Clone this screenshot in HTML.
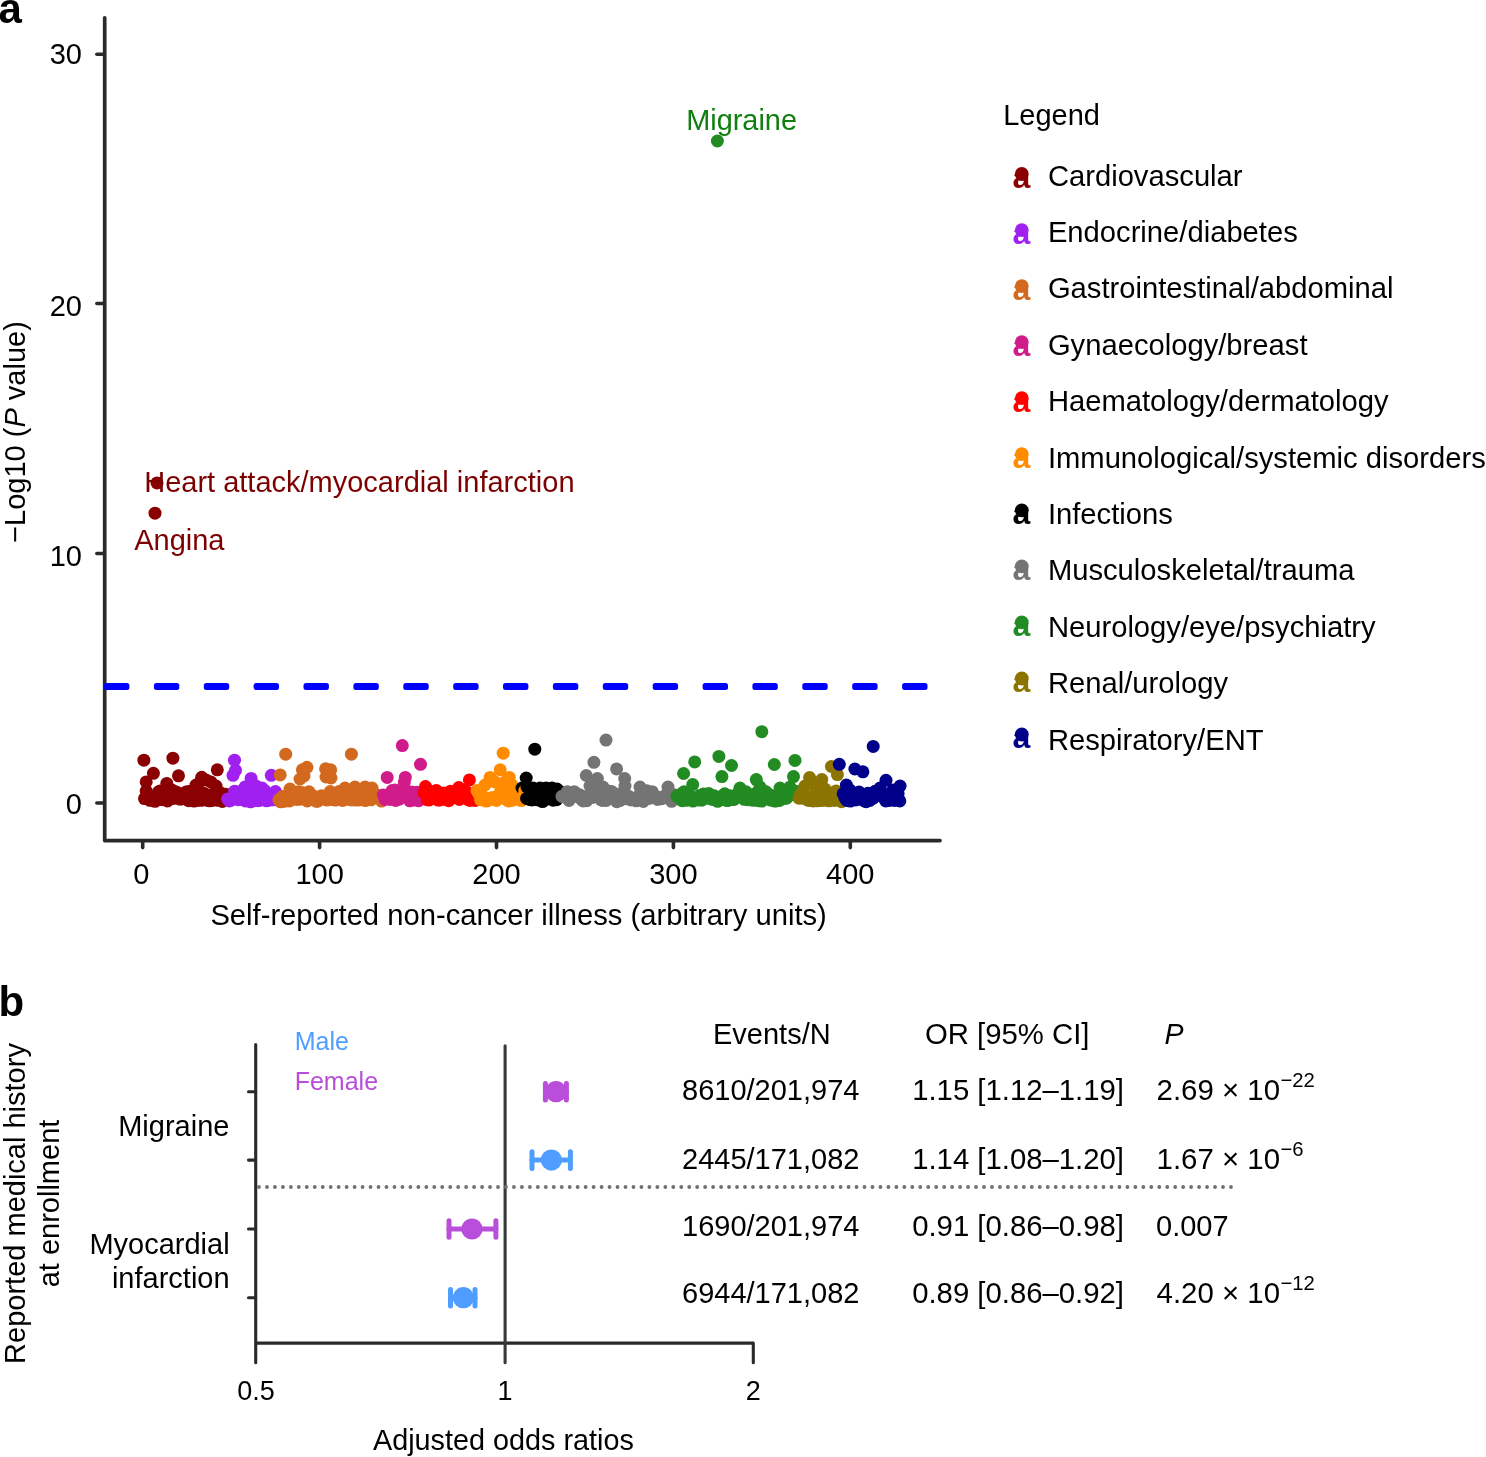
<!DOCTYPE html>
<html><head><meta charset="utf-8"><title>Figure</title>
<style>
html,body{margin:0;padding:0;background:#fff;}
body{width:1486px;height:1457px;overflow:hidden;}
svg{will-change:transform;display:block;font-family:"Liberation Sans", sans-serif;}
</style></head>
<body>
<svg width="1486" height="1457" viewBox="0 0 1486 1457">
<rect width="1486" height="1457" fill="#fff"/>
<text x="-1.5" y="22.7" font-size="42" text-anchor="start" fill="#000" font-weight="bold" font-style="normal" >a</text>
<path d="M104.7,17.8 L104.7,840.6 L940,840.6" fill="none" stroke="#2a2a2a" stroke-width="3.7" stroke-linecap="round" stroke-linejoin="round"/>
<line x1="96.8" y1="54.3" x2="104" y2="54.3" stroke="#2a2a2a" stroke-width="3.5" stroke-linecap="round"/>
<text x="81.9" y="63.6" font-size="29" text-anchor="end" fill="#000" font-weight="normal" font-style="normal" >30</text>
<line x1="96.8" y1="303.6" x2="104" y2="303.6" stroke="#2a2a2a" stroke-width="3.5" stroke-linecap="round"/>
<text x="81.9" y="316.3" font-size="29" text-anchor="end" fill="#000" font-weight="normal" font-style="normal" >20</text>
<line x1="96.8" y1="553.6" x2="104" y2="553.6" stroke="#2a2a2a" stroke-width="3.5" stroke-linecap="round"/>
<text x="81.9" y="566.3" font-size="29" text-anchor="end" fill="#000" font-weight="normal" font-style="normal" >10</text>
<line x1="96.8" y1="803.1" x2="104" y2="803.1" stroke="#2a2a2a" stroke-width="3.5" stroke-linecap="round"/>
<text x="81.9" y="813.5" font-size="29" text-anchor="end" fill="#000" font-weight="normal" font-style="normal" >0</text>
<line x1="142.7" y1="841" x2="142.7" y2="847.6" stroke="#2a2a2a" stroke-width="3.6" stroke-linecap="round"/>
<text x="141.4" y="883.7" font-size="29" text-anchor="middle" fill="#000" font-weight="normal" font-style="normal" >0</text>
<line x1="319.6" y1="841" x2="319.6" y2="847.6" stroke="#2a2a2a" stroke-width="3.6" stroke-linecap="round"/>
<text x="319.6" y="883.7" font-size="29" text-anchor="middle" fill="#000" font-weight="normal" font-style="normal" >100</text>
<line x1="496.5" y1="841" x2="496.5" y2="847.6" stroke="#2a2a2a" stroke-width="3.6" stroke-linecap="round"/>
<text x="496.5" y="883.7" font-size="29" text-anchor="middle" fill="#000" font-weight="normal" font-style="normal" >200</text>
<line x1="673.4" y1="841" x2="673.4" y2="847.6" stroke="#2a2a2a" stroke-width="3.6" stroke-linecap="round"/>
<text x="673.4" y="883.7" font-size="29" text-anchor="middle" fill="#000" font-weight="normal" font-style="normal" >300</text>
<line x1="850.3" y1="841" x2="850.3" y2="847.6" stroke="#2a2a2a" stroke-width="3.6" stroke-linecap="round"/>
<text x="850.3" y="883.7" font-size="29" text-anchor="middle" fill="#000" font-weight="normal" font-style="normal" >400</text>
<text x="518.6" y="925" font-size="29.2" text-anchor="middle" fill="#000" font-weight="normal" font-style="normal" >Self-reported non-cancer illness (arbitrary units)</text>
<text transform="translate(24.7,432) rotate(-90)" x="0" y="0" font-size="29" text-anchor="middle" fill="#000">−Log10 (<tspan font-style="italic">P</tspan> value)</text>
<rect x="104.0" y="683.1" width="25.4" height="7" rx="2.5" fill="#0000ff"/>
<rect x="153.9" y="683.1" width="25.4" height="7" rx="2.5" fill="#0000ff"/>
<rect x="203.8" y="683.1" width="25.4" height="7" rx="2.5" fill="#0000ff"/>
<rect x="253.6" y="683.1" width="25.4" height="7" rx="2.5" fill="#0000ff"/>
<rect x="303.5" y="683.1" width="25.4" height="7" rx="2.5" fill="#0000ff"/>
<rect x="353.4" y="683.1" width="25.4" height="7" rx="2.5" fill="#0000ff"/>
<rect x="403.3" y="683.1" width="25.4" height="7" rx="2.5" fill="#0000ff"/>
<rect x="453.2" y="683.1" width="25.4" height="7" rx="2.5" fill="#0000ff"/>
<rect x="503.0" y="683.1" width="25.4" height="7" rx="2.5" fill="#0000ff"/>
<rect x="552.9" y="683.1" width="25.4" height="7" rx="2.5" fill="#0000ff"/>
<rect x="602.8" y="683.1" width="25.4" height="7" rx="2.5" fill="#0000ff"/>
<rect x="652.7" y="683.1" width="25.4" height="7" rx="2.5" fill="#0000ff"/>
<rect x="702.6" y="683.1" width="25.4" height="7" rx="2.5" fill="#0000ff"/>
<rect x="752.4" y="683.1" width="25.4" height="7" rx="2.5" fill="#0000ff"/>
<rect x="802.3" y="683.1" width="25.4" height="7" rx="2.5" fill="#0000ff"/>
<rect x="852.2" y="683.1" width="25.4" height="7" rx="2.5" fill="#0000ff"/>
<rect x="902.1" y="683.1" width="25.4" height="7" rx="2.5" fill="#0000ff"/>
<circle cx="143.9" cy="760.2" r="6.5" fill="#8b0000"/>
<circle cx="144.5" cy="798.6" r="6.5" fill="#8b0000"/>
<circle cx="146.2" cy="781.9" r="6.5" fill="#8b0000"/>
<circle cx="146.2" cy="791.1" r="6.5" fill="#8b0000"/>
<circle cx="148.0" cy="798.1" r="6.5" fill="#8b0000"/>
<circle cx="149.8" cy="800.3" r="6.5" fill="#8b0000"/>
<circle cx="151.5" cy="797.2" r="6.5" fill="#8b0000"/>
<circle cx="153.3" cy="800.4" r="6.5" fill="#8b0000"/>
<circle cx="153.4" cy="773.3" r="6.5" fill="#8b0000"/>
<circle cx="155.1" cy="801.3" r="6.5" fill="#8b0000"/>
<circle cx="156.9" cy="795.1" r="6.5" fill="#8b0000"/>
<circle cx="158.6" cy="791.9" r="6.5" fill="#8b0000"/>
<circle cx="160.0" cy="791.0" r="6.5" fill="#8b0000"/>
<circle cx="160.4" cy="796.6" r="6.5" fill="#8b0000"/>
<circle cx="162.2" cy="799.7" r="6.5" fill="#8b0000"/>
<circle cx="163.9" cy="797.1" r="6.5" fill="#8b0000"/>
<circle cx="165.7" cy="799.8" r="6.5" fill="#8b0000"/>
<circle cx="166.8" cy="783.4" r="6.5" fill="#8b0000"/>
<circle cx="167.5" cy="801.0" r="6.5" fill="#8b0000"/>
<circle cx="169.2" cy="799.1" r="6.5" fill="#8b0000"/>
<circle cx="171.0" cy="798.1" r="6.5" fill="#8b0000"/>
<circle cx="172.0" cy="790.0" r="6.5" fill="#8b0000"/>
<circle cx="172.8" cy="798.3" r="6.5" fill="#8b0000"/>
<circle cx="172.9" cy="758.2" r="6.5" fill="#8b0000"/>
<circle cx="174.5" cy="798.1" r="6.5" fill="#8b0000"/>
<circle cx="176.3" cy="792.0" r="6.5" fill="#8b0000"/>
<circle cx="178.1" cy="793.3" r="6.5" fill="#8b0000"/>
<circle cx="178.5" cy="775.8" r="6.5" fill="#8b0000"/>
<circle cx="179.8" cy="799.1" r="6.5" fill="#8b0000"/>
<circle cx="181.6" cy="799.0" r="6.5" fill="#8b0000"/>
<circle cx="183.4" cy="794.5" r="6.5" fill="#8b0000"/>
<circle cx="185.2" cy="792.6" r="6.5" fill="#8b0000"/>
<circle cx="186.9" cy="791.8" r="6.5" fill="#8b0000"/>
<circle cx="188.7" cy="800.7" r="6.5" fill="#8b0000"/>
<circle cx="190.5" cy="791.2" r="6.5" fill="#8b0000"/>
<circle cx="192.2" cy="791.0" r="6.5" fill="#8b0000"/>
<circle cx="194.0" cy="801.1" r="6.5" fill="#8b0000"/>
<circle cx="195.8" cy="794.0" r="6.5" fill="#8b0000"/>
<circle cx="196.0" cy="785.0" r="6.5" fill="#8b0000"/>
<circle cx="197.5" cy="800.5" r="6.5" fill="#8b0000"/>
<circle cx="199.3" cy="791.6" r="6.5" fill="#8b0000"/>
<circle cx="201.0" cy="781.0" r="6.5" fill="#8b0000"/>
<circle cx="201.1" cy="800.2" r="6.5" fill="#8b0000"/>
<circle cx="201.7" cy="777.3" r="6.5" fill="#8b0000"/>
<circle cx="202.8" cy="800.0" r="6.5" fill="#8b0000"/>
<circle cx="204.6" cy="793.5" r="6.5" fill="#8b0000"/>
<circle cx="206.0" cy="780.0" r="6.5" fill="#8b0000"/>
<circle cx="206.4" cy="797.4" r="6.5" fill="#8b0000"/>
<circle cx="208.2" cy="800.6" r="6.5" fill="#8b0000"/>
<circle cx="209.9" cy="800.8" r="6.5" fill="#8b0000"/>
<circle cx="211.0" cy="782.0" r="6.5" fill="#8b0000"/>
<circle cx="211.7" cy="800.5" r="6.5" fill="#8b0000"/>
<circle cx="213.5" cy="799.8" r="6.5" fill="#8b0000"/>
<circle cx="215.2" cy="791.7" r="6.5" fill="#8b0000"/>
<circle cx="216.0" cy="786.0" r="6.5" fill="#8b0000"/>
<circle cx="217.0" cy="800.2" r="6.5" fill="#8b0000"/>
<circle cx="217.3" cy="769.8" r="6.5" fill="#8b0000"/>
<circle cx="218.8" cy="800.0" r="6.5" fill="#8b0000"/>
<circle cx="220.5" cy="792.8" r="6.5" fill="#8b0000"/>
<circle cx="222.3" cy="801.5" r="6.5" fill="#8b0000"/>
<circle cx="224.1" cy="799.7" r="6.5" fill="#8b0000"/>
<circle cx="225.8" cy="794.3" r="6.5" fill="#8b0000"/>
<circle cx="227.6" cy="798.9" r="6.5" fill="#a020f0"/>
<circle cx="229.4" cy="800.9" r="6.5" fill="#a020f0"/>
<circle cx="231.1" cy="800.1" r="6.5" fill="#a020f0"/>
<circle cx="232.9" cy="799.0" r="6.5" fill="#a020f0"/>
<circle cx="233.0" cy="775.3" r="6.5" fill="#a020f0"/>
<circle cx="234.5" cy="760.2" r="6.5" fill="#a020f0"/>
<circle cx="234.7" cy="791.2" r="6.5" fill="#a020f0"/>
<circle cx="235.5" cy="770.3" r="6.5" fill="#a020f0"/>
<circle cx="236.5" cy="797.9" r="6.5" fill="#a020f0"/>
<circle cx="238.2" cy="799.7" r="6.5" fill="#a020f0"/>
<circle cx="240.0" cy="791.7" r="6.5" fill="#a020f0"/>
<circle cx="241.8" cy="799.4" r="6.5" fill="#a020f0"/>
<circle cx="243.5" cy="795.9" r="6.5" fill="#a020f0"/>
<circle cx="245.0" cy="787.0" r="6.5" fill="#a020f0"/>
<circle cx="245.3" cy="800.9" r="6.5" fill="#a020f0"/>
<circle cx="247.1" cy="791.7" r="6.5" fill="#a020f0"/>
<circle cx="248.8" cy="798.1" r="6.5" fill="#a020f0"/>
<circle cx="250.6" cy="801.8" r="6.5" fill="#a020f0"/>
<circle cx="251.1" cy="778.4" r="6.5" fill="#a020f0"/>
<circle cx="252.4" cy="800.3" r="6.5" fill="#a020f0"/>
<circle cx="254.1" cy="800.4" r="6.5" fill="#a020f0"/>
<circle cx="255.9" cy="796.8" r="6.5" fill="#a020f0"/>
<circle cx="256.0" cy="786.0" r="6.5" fill="#a020f0"/>
<circle cx="257.7" cy="800.7" r="6.5" fill="#a020f0"/>
<circle cx="259.5" cy="800.4" r="6.5" fill="#a020f0"/>
<circle cx="261.2" cy="798.1" r="6.5" fill="#a020f0"/>
<circle cx="262.0" cy="788.0" r="6.5" fill="#a020f0"/>
<circle cx="263.0" cy="796.6" r="6.5" fill="#a020f0"/>
<circle cx="264.8" cy="790.7" r="6.5" fill="#a020f0"/>
<circle cx="266.5" cy="800.8" r="6.5" fill="#a020f0"/>
<circle cx="268.3" cy="797.8" r="6.5" fill="#a020f0"/>
<circle cx="270.1" cy="800.1" r="6.5" fill="#a020f0"/>
<circle cx="271.3" cy="775.3" r="6.5" fill="#a020f0"/>
<circle cx="271.8" cy="796.8" r="6.5" fill="#a020f0"/>
<circle cx="273.6" cy="799.8" r="6.5" fill="#a020f0"/>
<circle cx="275.4" cy="791.5" r="6.5" fill="#a020f0"/>
<circle cx="277.1" cy="796.0" r="6.5" fill="#a020f0"/>
<circle cx="278.9" cy="799.8" r="6.5" fill="#d2691e"/>
<circle cx="280.2" cy="774.9" r="6.5" fill="#d2691e"/>
<circle cx="280.7" cy="801.8" r="6.5" fill="#d2691e"/>
<circle cx="282.5" cy="796.5" r="6.5" fill="#d2691e"/>
<circle cx="284.2" cy="801.3" r="6.5" fill="#d2691e"/>
<circle cx="285.7" cy="754.2" r="6.5" fill="#d2691e"/>
<circle cx="286.0" cy="798.6" r="6.5" fill="#d2691e"/>
<circle cx="287.8" cy="800.3" r="6.5" fill="#d2691e"/>
<circle cx="289.5" cy="800.9" r="6.5" fill="#d2691e"/>
<circle cx="290.0" cy="789.0" r="6.5" fill="#d2691e"/>
<circle cx="291.3" cy="795.8" r="6.5" fill="#d2691e"/>
<circle cx="293.1" cy="795.5" r="6.5" fill="#d2691e"/>
<circle cx="294.8" cy="794.8" r="6.5" fill="#d2691e"/>
<circle cx="296.6" cy="799.5" r="6.5" fill="#d2691e"/>
<circle cx="298.4" cy="791.8" r="6.5" fill="#d2691e"/>
<circle cx="300.0" cy="779.0" r="6.5" fill="#d2691e"/>
<circle cx="300.1" cy="799.2" r="6.5" fill="#d2691e"/>
<circle cx="301.9" cy="792.4" r="6.5" fill="#d2691e"/>
<circle cx="302.4" cy="769.8" r="6.5" fill="#d2691e"/>
<circle cx="303.7" cy="796.6" r="6.5" fill="#d2691e"/>
<circle cx="304.0" cy="776.0" r="6.5" fill="#d2691e"/>
<circle cx="305.4" cy="797.4" r="6.5" fill="#d2691e"/>
<circle cx="306.9" cy="767.3" r="6.5" fill="#d2691e"/>
<circle cx="307.2" cy="801.0" r="6.5" fill="#d2691e"/>
<circle cx="309.0" cy="791.8" r="6.5" fill="#d2691e"/>
<circle cx="310.8" cy="795.2" r="6.5" fill="#d2691e"/>
<circle cx="312.5" cy="795.4" r="6.5" fill="#d2691e"/>
<circle cx="314.3" cy="799.1" r="6.5" fill="#d2691e"/>
<circle cx="316.1" cy="801.2" r="6.5" fill="#d2691e"/>
<circle cx="317.8" cy="801.2" r="6.5" fill="#d2691e"/>
<circle cx="319.6" cy="797.8" r="6.5" fill="#d2691e"/>
<circle cx="321.4" cy="795.8" r="6.5" fill="#d2691e"/>
<circle cx="323.1" cy="797.6" r="6.5" fill="#d2691e"/>
<circle cx="324.9" cy="799.1" r="6.5" fill="#d2691e"/>
<circle cx="325.6" cy="768.8" r="6.5" fill="#d2691e"/>
<circle cx="326.0" cy="777.0" r="6.5" fill="#d2691e"/>
<circle cx="326.7" cy="799.9" r="6.5" fill="#d2691e"/>
<circle cx="328.4" cy="799.7" r="6.5" fill="#d2691e"/>
<circle cx="330.2" cy="791.5" r="6.5" fill="#d2691e"/>
<circle cx="330.7" cy="769.8" r="6.5" fill="#d2691e"/>
<circle cx="331.0" cy="778.0" r="6.5" fill="#d2691e"/>
<circle cx="332.0" cy="799.2" r="6.5" fill="#d2691e"/>
<circle cx="333.8" cy="799.7" r="6.5" fill="#d2691e"/>
<circle cx="335.5" cy="800.1" r="6.5" fill="#d2691e"/>
<circle cx="337.3" cy="794.5" r="6.5" fill="#d2691e"/>
<circle cx="339.1" cy="791.5" r="6.5" fill="#d2691e"/>
<circle cx="340.8" cy="797.0" r="6.5" fill="#d2691e"/>
<circle cx="342.6" cy="800.5" r="6.5" fill="#d2691e"/>
<circle cx="344.4" cy="793.6" r="6.5" fill="#d2691e"/>
<circle cx="345.0" cy="788.0" r="6.5" fill="#d2691e"/>
<circle cx="346.1" cy="796.3" r="6.5" fill="#d2691e"/>
<circle cx="347.9" cy="799.2" r="6.5" fill="#d2691e"/>
<circle cx="349.7" cy="798.1" r="6.5" fill="#d2691e"/>
<circle cx="351.4" cy="754.2" r="6.5" fill="#d2691e"/>
<circle cx="351.4" cy="800.0" r="6.5" fill="#d2691e"/>
<circle cx="353.2" cy="796.8" r="6.5" fill="#d2691e"/>
<circle cx="355.0" cy="800.0" r="6.5" fill="#d2691e"/>
<circle cx="355.0" cy="787.0" r="6.5" fill="#d2691e"/>
<circle cx="356.7" cy="791.1" r="6.5" fill="#d2691e"/>
<circle cx="358.5" cy="800.1" r="6.5" fill="#d2691e"/>
<circle cx="360.3" cy="791.2" r="6.5" fill="#d2691e"/>
<circle cx="362.1" cy="795.8" r="6.5" fill="#d2691e"/>
<circle cx="363.8" cy="800.0" r="6.5" fill="#d2691e"/>
<circle cx="365.0" cy="787.0" r="6.5" fill="#d2691e"/>
<circle cx="365.6" cy="800.5" r="6.5" fill="#d2691e"/>
<circle cx="367.4" cy="797.7" r="6.5" fill="#d2691e"/>
<circle cx="369.1" cy="792.8" r="6.5" fill="#d2691e"/>
<circle cx="370.9" cy="799.8" r="6.5" fill="#d2691e"/>
<circle cx="372.0" cy="788.0" r="6.5" fill="#d2691e"/>
<circle cx="372.7" cy="796.7" r="6.5" fill="#d2691e"/>
<circle cx="374.4" cy="797.0" r="6.5" fill="#d2691e"/>
<circle cx="376.2" cy="794.5" r="6.5" fill="#d2691e"/>
<circle cx="378.0" cy="795.5" r="6.5" fill="#d2691e"/>
<circle cx="379.7" cy="797.8" r="6.5" fill="#d2691e"/>
<circle cx="381.5" cy="801.1" r="6.5" fill="#d2691e"/>
<circle cx="383.3" cy="795.1" r="6.5" fill="#d01c8b"/>
<circle cx="385.1" cy="799.5" r="6.5" fill="#d01c8b"/>
<circle cx="386.8" cy="795.9" r="6.5" fill="#d01c8b"/>
<circle cx="387.2" cy="777.4" r="6.5" fill="#d01c8b"/>
<circle cx="388.6" cy="797.3" r="6.5" fill="#d01c8b"/>
<circle cx="390.4" cy="799.4" r="6.5" fill="#d01c8b"/>
<circle cx="392.1" cy="790.5" r="6.5" fill="#d01c8b"/>
<circle cx="393.9" cy="791.6" r="6.5" fill="#d01c8b"/>
<circle cx="395.0" cy="790.0" r="6.5" fill="#d01c8b"/>
<circle cx="395.7" cy="800.5" r="6.5" fill="#d01c8b"/>
<circle cx="397.4" cy="797.4" r="6.5" fill="#d01c8b"/>
<circle cx="399.2" cy="799.2" r="6.5" fill="#d01c8b"/>
<circle cx="401.0" cy="792.2" r="6.5" fill="#d01c8b"/>
<circle cx="402.3" cy="745.6" r="6.5" fill="#d01c8b"/>
<circle cx="402.7" cy="791.1" r="6.5" fill="#d01c8b"/>
<circle cx="404.3" cy="782.4" r="6.5" fill="#d01c8b"/>
<circle cx="404.5" cy="796.0" r="6.5" fill="#d01c8b"/>
<circle cx="405.3" cy="777.4" r="6.5" fill="#d01c8b"/>
<circle cx="406.3" cy="795.9" r="6.5" fill="#d01c8b"/>
<circle cx="408.0" cy="796.9" r="6.5" fill="#d01c8b"/>
<circle cx="409.8" cy="800.8" r="6.5" fill="#d01c8b"/>
<circle cx="411.6" cy="792.0" r="6.5" fill="#d01c8b"/>
<circle cx="413.4" cy="798.2" r="6.5" fill="#d01c8b"/>
<circle cx="415.1" cy="800.1" r="6.5" fill="#d01c8b"/>
<circle cx="416.9" cy="792.2" r="6.5" fill="#d01c8b"/>
<circle cx="418.7" cy="800.7" r="6.5" fill="#d01c8b"/>
<circle cx="420.4" cy="798.0" r="6.5" fill="#d01c8b"/>
<circle cx="420.5" cy="764.3" r="6.5" fill="#d01c8b"/>
<circle cx="422.2" cy="797.4" r="6.5" fill="#d01c8b"/>
<circle cx="424.0" cy="793.0" r="6.5" fill="#ff0000"/>
<circle cx="425.5" cy="786.5" r="6.5" fill="#ff0000"/>
<circle cx="425.7" cy="793.4" r="6.5" fill="#ff0000"/>
<circle cx="427.5" cy="799.8" r="6.5" fill="#ff0000"/>
<circle cx="428.0" cy="790.0" r="6.5" fill="#ff0000"/>
<circle cx="429.3" cy="800.0" r="6.5" fill="#ff0000"/>
<circle cx="431.0" cy="798.3" r="6.5" fill="#ff0000"/>
<circle cx="432.8" cy="793.3" r="6.5" fill="#ff0000"/>
<circle cx="434.6" cy="791.2" r="6.5" fill="#ff0000"/>
<circle cx="436.4" cy="790.5" r="6.5" fill="#ff0000"/>
<circle cx="438.1" cy="800.1" r="6.5" fill="#ff0000"/>
<circle cx="439.9" cy="800.0" r="6.5" fill="#ff0000"/>
<circle cx="441.7" cy="796.7" r="6.5" fill="#ff0000"/>
<circle cx="443.4" cy="792.9" r="6.5" fill="#ff0000"/>
<circle cx="445.2" cy="799.3" r="6.5" fill="#ff0000"/>
<circle cx="447.0" cy="793.4" r="6.5" fill="#ff0000"/>
<circle cx="448.7" cy="800.7" r="6.5" fill="#ff0000"/>
<circle cx="450.5" cy="791.2" r="6.5" fill="#ff0000"/>
<circle cx="452.3" cy="796.9" r="6.5" fill="#ff0000"/>
<circle cx="454.0" cy="797.8" r="6.5" fill="#ff0000"/>
<circle cx="455.8" cy="796.3" r="6.5" fill="#ff0000"/>
<circle cx="457.6" cy="791.2" r="6.5" fill="#ff0000"/>
<circle cx="458.8" cy="787.5" r="6.5" fill="#ff0000"/>
<circle cx="459.4" cy="799.4" r="6.5" fill="#ff0000"/>
<circle cx="461.1" cy="797.5" r="6.5" fill="#ff0000"/>
<circle cx="462.9" cy="795.2" r="6.5" fill="#ff0000"/>
<circle cx="463.0" cy="790.0" r="6.5" fill="#ff0000"/>
<circle cx="464.7" cy="797.6" r="6.5" fill="#ff0000"/>
<circle cx="466.4" cy="791.9" r="6.5" fill="#ff0000"/>
<circle cx="468.2" cy="799.7" r="6.5" fill="#ff0000"/>
<circle cx="469.4" cy="779.9" r="6.5" fill="#ff0000"/>
<circle cx="470.0" cy="800.5" r="6.5" fill="#ff0000"/>
<circle cx="471.7" cy="794.2" r="6.5" fill="#ff0000"/>
<circle cx="473.5" cy="798.0" r="6.5" fill="#ff0000"/>
<circle cx="475.3" cy="800.4" r="6.5" fill="#ff0000"/>
<circle cx="477.0" cy="790.6" r="6.5" fill="#ff8c00"/>
<circle cx="478.8" cy="793.6" r="6.5" fill="#ff8c00"/>
<circle cx="480.6" cy="799.8" r="6.5" fill="#ff8c00"/>
<circle cx="482.3" cy="795.7" r="6.5" fill="#ff8c00"/>
<circle cx="484.1" cy="799.4" r="6.5" fill="#ff8c00"/>
<circle cx="485.0" cy="785.0" r="6.5" fill="#ff8c00"/>
<circle cx="485.9" cy="801.1" r="6.5" fill="#ff8c00"/>
<circle cx="487.7" cy="800.6" r="6.5" fill="#ff8c00"/>
<circle cx="489.4" cy="799.4" r="6.5" fill="#ff8c00"/>
<circle cx="490.1" cy="777.4" r="6.5" fill="#ff8c00"/>
<circle cx="491.2" cy="797.7" r="6.5" fill="#ff8c00"/>
<circle cx="493.0" cy="798.9" r="6.5" fill="#ff8c00"/>
<circle cx="494.7" cy="797.3" r="6.5" fill="#ff8c00"/>
<circle cx="495.0" cy="782.0" r="6.5" fill="#ff8c00"/>
<circle cx="496.5" cy="800.4" r="6.5" fill="#ff8c00"/>
<circle cx="498.3" cy="796.7" r="6.5" fill="#ff8c00"/>
<circle cx="500.0" cy="792.8" r="6.5" fill="#ff8c00"/>
<circle cx="500.2" cy="769.8" r="6.5" fill="#ff8c00"/>
<circle cx="501.8" cy="792.0" r="6.5" fill="#ff8c00"/>
<circle cx="503.2" cy="753.2" r="6.5" fill="#ff8c00"/>
<circle cx="503.6" cy="795.6" r="6.5" fill="#ff8c00"/>
<circle cx="505.0" cy="782.0" r="6.5" fill="#ff8c00"/>
<circle cx="505.3" cy="790.9" r="6.5" fill="#ff8c00"/>
<circle cx="507.1" cy="800.2" r="6.5" fill="#ff8c00"/>
<circle cx="508.9" cy="800.9" r="6.5" fill="#ff8c00"/>
<circle cx="509.3" cy="777.4" r="6.5" fill="#ff8c00"/>
<circle cx="510.7" cy="790.8" r="6.5" fill="#ff8c00"/>
<circle cx="512.0" cy="785.0" r="6.5" fill="#ff8c00"/>
<circle cx="512.4" cy="800.3" r="6.5" fill="#ff8c00"/>
<circle cx="514.2" cy="799.2" r="6.5" fill="#ff8c00"/>
<circle cx="516.0" cy="793.0" r="6.5" fill="#ff8c00"/>
<circle cx="517.7" cy="793.6" r="6.5" fill="#ff8c00"/>
<circle cx="519.5" cy="799.2" r="6.5" fill="#ff8c00"/>
<circle cx="521.3" cy="800.6" r="6.5" fill="#ff8c00"/>
<circle cx="522.0" cy="788.0" r="6.5" fill="#000000"/>
<circle cx="523.0" cy="796.7" r="6.5" fill="#ff8c00"/>
<circle cx="524.8" cy="790.6" r="6.5" fill="#ff8c00"/>
<circle cx="526.2" cy="778.0" r="6.5" fill="#000000"/>
<circle cx="526.6" cy="798.4" r="6.5" fill="#000000"/>
<circle cx="527.0" cy="787.0" r="6.5" fill="#000000"/>
<circle cx="528.3" cy="798.4" r="6.5" fill="#000000"/>
<circle cx="530.1" cy="799.6" r="6.5" fill="#000000"/>
<circle cx="531.9" cy="800.0" r="6.5" fill="#000000"/>
<circle cx="533.0" cy="788.0" r="6.5" fill="#000000"/>
<circle cx="533.6" cy="797.6" r="6.5" fill="#000000"/>
<circle cx="534.8" cy="749.2" r="6.5" fill="#000000"/>
<circle cx="535.4" cy="796.8" r="6.5" fill="#000000"/>
<circle cx="537.2" cy="799.8" r="6.5" fill="#000000"/>
<circle cx="539.0" cy="793.7" r="6.5" fill="#000000"/>
<circle cx="540.0" cy="788.0" r="6.5" fill="#000000"/>
<circle cx="540.7" cy="790.6" r="6.5" fill="#000000"/>
<circle cx="542.5" cy="801.6" r="6.5" fill="#000000"/>
<circle cx="544.3" cy="798.8" r="6.5" fill="#000000"/>
<circle cx="546.0" cy="788.0" r="6.5" fill="#000000"/>
<circle cx="546.0" cy="799.4" r="6.5" fill="#000000"/>
<circle cx="547.8" cy="797.8" r="6.5" fill="#000000"/>
<circle cx="549.6" cy="796.3" r="6.5" fill="#000000"/>
<circle cx="551.3" cy="796.3" r="6.5" fill="#000000"/>
<circle cx="552.0" cy="788.0" r="6.5" fill="#000000"/>
<circle cx="553.1" cy="800.2" r="6.5" fill="#000000"/>
<circle cx="554.9" cy="795.0" r="6.5" fill="#000000"/>
<circle cx="556.6" cy="799.7" r="6.5" fill="#000000"/>
<circle cx="557.0" cy="789.0" r="6.5" fill="#000000"/>
<circle cx="558.4" cy="797.2" r="6.5" fill="#000000"/>
<circle cx="560.2" cy="791.7" r="6.5" fill="#000000"/>
<circle cx="562.0" cy="796.3" r="6.5" fill="#747474"/>
<circle cx="563.7" cy="796.6" r="6.5" fill="#747474"/>
<circle cx="565.5" cy="797.1" r="6.5" fill="#747474"/>
<circle cx="567.3" cy="791.7" r="6.5" fill="#747474"/>
<circle cx="569.0" cy="800.5" r="6.5" fill="#747474"/>
<circle cx="570.8" cy="795.5" r="6.5" fill="#747474"/>
<circle cx="572.6" cy="793.5" r="6.5" fill="#747474"/>
<circle cx="574.3" cy="791.8" r="6.5" fill="#747474"/>
<circle cx="576.1" cy="796.3" r="6.5" fill="#747474"/>
<circle cx="577.9" cy="794.5" r="6.5" fill="#747474"/>
<circle cx="579.6" cy="794.7" r="6.5" fill="#747474"/>
<circle cx="581.4" cy="799.3" r="6.5" fill="#747474"/>
<circle cx="583.2" cy="800.9" r="6.5" fill="#747474"/>
<circle cx="585.0" cy="796.8" r="6.5" fill="#747474"/>
<circle cx="586.3" cy="775.5" r="6.5" fill="#747474"/>
<circle cx="586.7" cy="800.7" r="6.5" fill="#747474"/>
<circle cx="588.5" cy="796.0" r="6.5" fill="#747474"/>
<circle cx="590.0" cy="786.0" r="6.5" fill="#747474"/>
<circle cx="590.3" cy="796.5" r="6.5" fill="#747474"/>
<circle cx="592.0" cy="797.6" r="6.5" fill="#747474"/>
<circle cx="593.8" cy="791.4" r="6.5" fill="#747474"/>
<circle cx="593.9" cy="762.3" r="6.5" fill="#747474"/>
<circle cx="595.6" cy="796.2" r="6.5" fill="#747474"/>
<circle cx="597.3" cy="790.4" r="6.5" fill="#747474"/>
<circle cx="597.4" cy="778.5" r="6.5" fill="#747474"/>
<circle cx="599.1" cy="797.3" r="6.5" fill="#747474"/>
<circle cx="600.9" cy="799.7" r="6.5" fill="#747474"/>
<circle cx="602.6" cy="800.5" r="6.5" fill="#747474"/>
<circle cx="603.0" cy="787.0" r="6.5" fill="#747474"/>
<circle cx="604.4" cy="798.4" r="6.5" fill="#747474"/>
<circle cx="606.0" cy="740.1" r="6.5" fill="#747474"/>
<circle cx="606.2" cy="800.5" r="6.5" fill="#747474"/>
<circle cx="607.9" cy="797.6" r="6.5" fill="#747474"/>
<circle cx="609.7" cy="791.3" r="6.5" fill="#747474"/>
<circle cx="611.5" cy="791.4" r="6.5" fill="#747474"/>
<circle cx="613.3" cy="793.1" r="6.5" fill="#747474"/>
<circle cx="615.0" cy="797.5" r="6.5" fill="#747474"/>
<circle cx="616.6" cy="768.9" r="6.5" fill="#747474"/>
<circle cx="616.8" cy="801.7" r="6.5" fill="#747474"/>
<circle cx="618.6" cy="800.4" r="6.5" fill="#747474"/>
<circle cx="620.3" cy="800.4" r="6.5" fill="#747474"/>
<circle cx="622.1" cy="796.2" r="6.5" fill="#747474"/>
<circle cx="623.9" cy="791.1" r="6.5" fill="#747474"/>
<circle cx="624.7" cy="778.5" r="6.5" fill="#747474"/>
<circle cx="625.0" cy="786.0" r="6.5" fill="#747474"/>
<circle cx="625.6" cy="798.0" r="6.5" fill="#747474"/>
<circle cx="627.4" cy="798.8" r="6.5" fill="#747474"/>
<circle cx="629.2" cy="796.5" r="6.5" fill="#747474"/>
<circle cx="630.9" cy="800.0" r="6.5" fill="#747474"/>
<circle cx="632.7" cy="798.8" r="6.5" fill="#747474"/>
<circle cx="634.5" cy="799.2" r="6.5" fill="#747474"/>
<circle cx="636.3" cy="800.8" r="6.5" fill="#747474"/>
<circle cx="638.0" cy="799.6" r="6.5" fill="#747474"/>
<circle cx="639.8" cy="794.3" r="6.5" fill="#747474"/>
<circle cx="640.0" cy="787.0" r="6.5" fill="#747474"/>
<circle cx="641.6" cy="791.9" r="6.5" fill="#747474"/>
<circle cx="643.3" cy="801.5" r="6.5" fill="#747474"/>
<circle cx="645.1" cy="798.6" r="6.5" fill="#747474"/>
<circle cx="646.9" cy="790.8" r="6.5" fill="#747474"/>
<circle cx="648.6" cy="798.6" r="6.5" fill="#747474"/>
<circle cx="650.4" cy="795.4" r="6.5" fill="#747474"/>
<circle cx="652.2" cy="791.7" r="6.5" fill="#747474"/>
<circle cx="653.9" cy="796.4" r="6.5" fill="#747474"/>
<circle cx="655.7" cy="796.7" r="6.5" fill="#747474"/>
<circle cx="657.5" cy="799.5" r="6.5" fill="#747474"/>
<circle cx="659.2" cy="797.2" r="6.5" fill="#747474"/>
<circle cx="661.0" cy="798.8" r="6.5" fill="#747474"/>
<circle cx="662.8" cy="798.1" r="6.5" fill="#747474"/>
<circle cx="664.6" cy="797.1" r="6.5" fill="#747474"/>
<circle cx="666.3" cy="794.5" r="6.5" fill="#747474"/>
<circle cx="668.0" cy="787.0" r="6.5" fill="#747474"/>
<circle cx="668.1" cy="791.9" r="6.5" fill="#747474"/>
<circle cx="669.9" cy="794.8" r="6.5" fill="#747474"/>
<circle cx="671.6" cy="801.3" r="6.5" fill="#747474"/>
<circle cx="673.4" cy="794.5" r="6.5" fill="#747474"/>
<circle cx="675.2" cy="798.8" r="6.5" fill="#747474"/>
<circle cx="676.9" cy="796.1" r="6.5" fill="#228b22"/>
<circle cx="678.7" cy="797.4" r="6.5" fill="#228b22"/>
<circle cx="680.5" cy="794.4" r="6.5" fill="#228b22"/>
<circle cx="682.2" cy="800.7" r="6.5" fill="#228b22"/>
<circle cx="683.6" cy="773.5" r="6.5" fill="#228b22"/>
<circle cx="684.0" cy="791.8" r="6.5" fill="#228b22"/>
<circle cx="685.8" cy="800.3" r="6.5" fill="#228b22"/>
<circle cx="687.6" cy="799.7" r="6.5" fill="#228b22"/>
<circle cx="689.3" cy="796.2" r="6.5" fill="#228b22"/>
<circle cx="691.1" cy="797.0" r="6.5" fill="#228b22"/>
<circle cx="692.7" cy="784.6" r="6.5" fill="#228b22"/>
<circle cx="692.9" cy="801.1" r="6.5" fill="#228b22"/>
<circle cx="694.6" cy="797.8" r="6.5" fill="#228b22"/>
<circle cx="694.7" cy="761.9" r="6.5" fill="#228b22"/>
<circle cx="696.4" cy="799.1" r="6.5" fill="#228b22"/>
<circle cx="698.2" cy="799.9" r="6.5" fill="#228b22"/>
<circle cx="699.9" cy="795.6" r="6.5" fill="#228b22"/>
<circle cx="701.7" cy="800.2" r="6.5" fill="#228b22"/>
<circle cx="703.5" cy="793.9" r="6.5" fill="#228b22"/>
<circle cx="705.2" cy="794.2" r="6.5" fill="#228b22"/>
<circle cx="707.0" cy="798.3" r="6.5" fill="#228b22"/>
<circle cx="708.8" cy="793.5" r="6.5" fill="#228b22"/>
<circle cx="710.5" cy="797.2" r="6.5" fill="#228b22"/>
<circle cx="712.3" cy="799.5" r="6.5" fill="#228b22"/>
<circle cx="714.1" cy="795.7" r="6.5" fill="#228b22"/>
<circle cx="715.9" cy="798.5" r="6.5" fill="#228b22"/>
<circle cx="717.6" cy="801.3" r="6.5" fill="#228b22"/>
<circle cx="718.9" cy="756.4" r="6.5" fill="#228b22"/>
<circle cx="719.4" cy="800.2" r="6.5" fill="#228b22"/>
<circle cx="721.2" cy="797.4" r="6.5" fill="#228b22"/>
<circle cx="721.9" cy="776.6" r="6.5" fill="#228b22"/>
<circle cx="722.9" cy="795.7" r="6.5" fill="#228b22"/>
<circle cx="724.7" cy="793.8" r="6.5" fill="#228b22"/>
<circle cx="726.5" cy="800.4" r="6.5" fill="#228b22"/>
<circle cx="728.2" cy="800.5" r="6.5" fill="#228b22"/>
<circle cx="730.0" cy="795.7" r="6.5" fill="#228b22"/>
<circle cx="731.5" cy="765.5" r="6.5" fill="#228b22"/>
<circle cx="731.8" cy="799.1" r="6.5" fill="#228b22"/>
<circle cx="733.5" cy="799.6" r="6.5" fill="#228b22"/>
<circle cx="735.3" cy="798.5" r="6.5" fill="#228b22"/>
<circle cx="737.1" cy="795.8" r="6.5" fill="#228b22"/>
<circle cx="738.9" cy="791.9" r="6.5" fill="#228b22"/>
<circle cx="740.0" cy="788.0" r="6.5" fill="#228b22"/>
<circle cx="740.6" cy="791.1" r="6.5" fill="#228b22"/>
<circle cx="742.4" cy="793.6" r="6.5" fill="#228b22"/>
<circle cx="744.2" cy="799.3" r="6.5" fill="#228b22"/>
<circle cx="745.9" cy="791.8" r="6.5" fill="#228b22"/>
<circle cx="747.7" cy="799.7" r="6.5" fill="#228b22"/>
<circle cx="749.5" cy="798.9" r="6.5" fill="#228b22"/>
<circle cx="751.2" cy="798.8" r="6.5" fill="#228b22"/>
<circle cx="753.0" cy="800.3" r="6.5" fill="#228b22"/>
<circle cx="754.8" cy="794.1" r="6.5" fill="#228b22"/>
<circle cx="756.3" cy="779.6" r="6.5" fill="#228b22"/>
<circle cx="756.5" cy="793.2" r="6.5" fill="#228b22"/>
<circle cx="758.3" cy="800.7" r="6.5" fill="#228b22"/>
<circle cx="760.0" cy="787.0" r="6.5" fill="#228b22"/>
<circle cx="760.1" cy="791.3" r="6.5" fill="#228b22"/>
<circle cx="761.8" cy="731.7" r="6.5" fill="#228b22"/>
<circle cx="761.8" cy="801.1" r="6.5" fill="#228b22"/>
<circle cx="763.6" cy="797.8" r="6.5" fill="#228b22"/>
<circle cx="765.4" cy="791.4" r="6.5" fill="#228b22"/>
<circle cx="767.2" cy="793.2" r="6.5" fill="#228b22"/>
<circle cx="768.9" cy="798.1" r="6.5" fill="#228b22"/>
<circle cx="770.7" cy="800.1" r="6.5" fill="#228b22"/>
<circle cx="772.5" cy="795.8" r="6.5" fill="#228b22"/>
<circle cx="774.2" cy="801.0" r="6.5" fill="#228b22"/>
<circle cx="774.3" cy="764.5" r="6.5" fill="#228b22"/>
<circle cx="776.0" cy="800.9" r="6.5" fill="#228b22"/>
<circle cx="777.8" cy="796.1" r="6.5" fill="#228b22"/>
<circle cx="779.5" cy="800.5" r="6.5" fill="#228b22"/>
<circle cx="780.0" cy="788.0" r="6.5" fill="#228b22"/>
<circle cx="781.3" cy="798.3" r="6.5" fill="#228b22"/>
<circle cx="783.1" cy="798.7" r="6.5" fill="#228b22"/>
<circle cx="784.8" cy="791.5" r="6.5" fill="#228b22"/>
<circle cx="786.6" cy="798.2" r="6.5" fill="#228b22"/>
<circle cx="788.4" cy="795.8" r="6.5" fill="#228b22"/>
<circle cx="790.0" cy="787.0" r="6.5" fill="#228b22"/>
<circle cx="790.2" cy="791.1" r="6.5" fill="#228b22"/>
<circle cx="791.9" cy="793.6" r="6.5" fill="#228b22"/>
<circle cx="793.5" cy="776.6" r="6.5" fill="#228b22"/>
<circle cx="793.7" cy="793.0" r="6.5" fill="#228b22"/>
<circle cx="795.0" cy="760.4" r="6.5" fill="#228b22"/>
<circle cx="795.5" cy="793.7" r="6.5" fill="#228b22"/>
<circle cx="797.2" cy="791.4" r="6.5" fill="#228b22"/>
<circle cx="799.0" cy="798.2" r="6.5" fill="#8b7500"/>
<circle cx="800.8" cy="793.8" r="6.5" fill="#8b7500"/>
<circle cx="802.5" cy="798.2" r="6.5" fill="#8b7500"/>
<circle cx="804.3" cy="795.9" r="6.5" fill="#8b7500"/>
<circle cx="805.0" cy="786.0" r="6.5" fill="#8b7500"/>
<circle cx="806.1" cy="798.5" r="6.5" fill="#8b7500"/>
<circle cx="807.8" cy="800.1" r="6.5" fill="#8b7500"/>
<circle cx="809.6" cy="777.6" r="6.5" fill="#8b7500"/>
<circle cx="809.6" cy="800.4" r="6.5" fill="#8b7500"/>
<circle cx="811.4" cy="800.6" r="6.5" fill="#8b7500"/>
<circle cx="812.0" cy="783.0" r="6.5" fill="#8b7500"/>
<circle cx="813.2" cy="800.9" r="6.5" fill="#8b7500"/>
<circle cx="814.9" cy="794.0" r="6.5" fill="#8b7500"/>
<circle cx="816.7" cy="800.8" r="6.5" fill="#8b7500"/>
<circle cx="818.0" cy="784.0" r="6.5" fill="#8b7500"/>
<circle cx="818.5" cy="797.9" r="6.5" fill="#8b7500"/>
<circle cx="820.2" cy="800.4" r="6.5" fill="#8b7500"/>
<circle cx="821.8" cy="779.6" r="6.5" fill="#8b7500"/>
<circle cx="822.0" cy="799.8" r="6.5" fill="#8b7500"/>
<circle cx="823.8" cy="800.3" r="6.5" fill="#8b7500"/>
<circle cx="825.0" cy="789.0" r="6.5" fill="#8b7500"/>
<circle cx="825.5" cy="796.7" r="6.5" fill="#8b7500"/>
<circle cx="827.3" cy="799.9" r="6.5" fill="#8b7500"/>
<circle cx="829.1" cy="800.8" r="6.5" fill="#8b7500"/>
<circle cx="830.8" cy="799.6" r="6.5" fill="#8b7500"/>
<circle cx="831.4" cy="766.5" r="6.5" fill="#8b7500"/>
<circle cx="832.6" cy="793.5" r="6.5" fill="#8b7500"/>
<circle cx="834.4" cy="800.5" r="6.5" fill="#8b7500"/>
<circle cx="836.1" cy="790.9" r="6.5" fill="#8b7500"/>
<circle cx="837.4" cy="774.6" r="6.5" fill="#8b7500"/>
<circle cx="837.9" cy="798.4" r="6.5" fill="#8b7500"/>
<circle cx="839.3" cy="764.3" r="6.5" fill="#00008b"/>
<circle cx="839.7" cy="797.8" r="6.5" fill="#8b7500"/>
<circle cx="841.5" cy="801.7" r="6.5" fill="#8b7500"/>
<circle cx="843.2" cy="793.7" r="6.5" fill="#00008b"/>
<circle cx="845.0" cy="797.9" r="6.5" fill="#00008b"/>
<circle cx="846.4" cy="785.0" r="6.5" fill="#00008b"/>
<circle cx="846.8" cy="800.5" r="6.5" fill="#00008b"/>
<circle cx="848.5" cy="796.0" r="6.5" fill="#00008b"/>
<circle cx="850.0" cy="790.0" r="6.5" fill="#00008b"/>
<circle cx="850.3" cy="801.1" r="6.5" fill="#00008b"/>
<circle cx="852.1" cy="799.6" r="6.5" fill="#00008b"/>
<circle cx="853.8" cy="795.7" r="6.5" fill="#00008b"/>
<circle cx="854.9" cy="769.0" r="6.5" fill="#00008b"/>
<circle cx="855.6" cy="799.9" r="6.5" fill="#00008b"/>
<circle cx="857.4" cy="799.1" r="6.5" fill="#00008b"/>
<circle cx="859.1" cy="792.1" r="6.5" fill="#00008b"/>
<circle cx="860.9" cy="797.4" r="6.5" fill="#00008b"/>
<circle cx="862.7" cy="799.9" r="6.5" fill="#00008b"/>
<circle cx="862.9" cy="771.8" r="6.5" fill="#00008b"/>
<circle cx="864.5" cy="800.9" r="6.5" fill="#00008b"/>
<circle cx="866.2" cy="801.7" r="6.5" fill="#00008b"/>
<circle cx="868.0" cy="793.3" r="6.5" fill="#00008b"/>
<circle cx="869.8" cy="800.4" r="6.5" fill="#00008b"/>
<circle cx="871.5" cy="794.9" r="6.5" fill="#00008b"/>
<circle cx="873.2" cy="746.4" r="6.5" fill="#00008b"/>
<circle cx="873.3" cy="798.2" r="6.5" fill="#00008b"/>
<circle cx="875.1" cy="791.3" r="6.5" fill="#00008b"/>
<circle cx="876.8" cy="792.1" r="6.5" fill="#00008b"/>
<circle cx="878.6" cy="794.1" r="6.5" fill="#00008b"/>
<circle cx="880.0" cy="788.0" r="6.5" fill="#00008b"/>
<circle cx="880.4" cy="790.5" r="6.5" fill="#00008b"/>
<circle cx="882.1" cy="792.9" r="6.5" fill="#00008b"/>
<circle cx="883.9" cy="797.7" r="6.5" fill="#00008b"/>
<circle cx="885.7" cy="801.0" r="6.5" fill="#00008b"/>
<circle cx="886.0" cy="780.3" r="6.5" fill="#00008b"/>
<circle cx="887.4" cy="799.2" r="6.5" fill="#00008b"/>
<circle cx="889.2" cy="800.5" r="6.5" fill="#00008b"/>
<circle cx="891.0" cy="798.7" r="6.5" fill="#00008b"/>
<circle cx="892.8" cy="799.5" r="6.5" fill="#00008b"/>
<circle cx="893.0" cy="790.0" r="6.5" fill="#00008b"/>
<circle cx="894.5" cy="800.5" r="6.5" fill="#00008b"/>
<circle cx="896.3" cy="799.2" r="6.5" fill="#00008b"/>
<circle cx="898.1" cy="793.5" r="6.5" fill="#00008b"/>
<circle cx="899.8" cy="800.9" r="6.5" fill="#00008b"/>
<circle cx="900.1" cy="786.0" r="6.5" fill="#00008b"/>
<circle cx="157" cy="482.9" r="6.5" fill="#8b0000"/>
<circle cx="155" cy="513.2" r="6.5" fill="#8b0000"/>
<circle cx="717.4" cy="141" r="6.5" fill="#228b22"/>
<text x="144.2" y="492" font-size="29" text-anchor="start" fill="#7d0000" font-weight="normal" font-style="normal" >Heart attack/myocardial infarction</text>
<text x="134.2" y="549.9" font-size="29" text-anchor="start" fill="#7d0000" font-weight="normal" font-style="normal" >Angina</text>
<text x="686.2" y="130.4" font-size="28.9" text-anchor="start" fill="#0f7f0f" font-weight="normal" font-style="normal" >Migraine</text>
<text x="1003.2" y="124.6" font-size="29" text-anchor="start" fill="#000" font-weight="normal" font-style="normal" >Legend</text>
<text x="1012.4" y="187.5" font-size="32" text-anchor="start" fill="#8b0000" font-weight="bold" font-style="normal" >a</text>
<circle cx="1021.8" cy="174.0" r="6.9" fill="#8b0000"/>
<text x="1047.9" y="185.6" font-size="29.2" text-anchor="start" fill="#000" font-weight="normal" font-style="normal" >Cardiovascular</text>
<text x="1012.4" y="243.6" font-size="32" text-anchor="start" fill="#a020f0" font-weight="bold" font-style="normal" >a</text>
<circle cx="1021.8" cy="230.1" r="6.9" fill="#a020f0"/>
<text x="1047.9" y="242.0" font-size="29.2" text-anchor="start" fill="#000" font-weight="normal" font-style="normal" >Endocrine/diabetes</text>
<text x="1012.4" y="299.6" font-size="32" text-anchor="start" fill="#d2691e" font-weight="bold" font-style="normal" >a</text>
<circle cx="1021.8" cy="286.1" r="6.9" fill="#d2691e"/>
<text x="1047.9" y="298.4" font-size="29.2" text-anchor="start" fill="#000" font-weight="normal" font-style="normal" >Gastrointestinal/abdominal</text>
<text x="1012.4" y="355.6" font-size="32" text-anchor="start" fill="#d01c8b" font-weight="bold" font-style="normal" >a</text>
<circle cx="1021.8" cy="342.1" r="6.9" fill="#d01c8b"/>
<text x="1047.9" y="354.8" font-size="29.2" text-anchor="start" fill="#000" font-weight="normal" font-style="normal" >Gynaecology/breast</text>
<text x="1012.4" y="411.7" font-size="32" text-anchor="start" fill="#ff0000" font-weight="bold" font-style="normal" >a</text>
<circle cx="1021.8" cy="398.2" r="6.9" fill="#ff0000"/>
<text x="1047.9" y="411.2" font-size="29.2" text-anchor="start" fill="#000" font-weight="normal" font-style="normal" >Haematology/dermatology</text>
<text x="1012.4" y="467.8" font-size="32" text-anchor="start" fill="#ff8c00" font-weight="bold" font-style="normal" >a</text>
<circle cx="1021.8" cy="454.2" r="6.9" fill="#ff8c00"/>
<text x="1047.9" y="467.6" font-size="29.2" text-anchor="start" fill="#000" font-weight="normal" font-style="normal" >Immunological/systemic disorders</text>
<text x="1012.4" y="523.8" font-size="32" text-anchor="start" fill="#000000" font-weight="bold" font-style="normal" >a</text>
<circle cx="1021.8" cy="510.3" r="6.9" fill="#000000"/>
<text x="1047.9" y="524.0" font-size="29.2" text-anchor="start" fill="#000" font-weight="normal" font-style="normal" >Infections</text>
<text x="1012.4" y="579.8" font-size="32" text-anchor="start" fill="#747474" font-weight="bold" font-style="normal" >a</text>
<circle cx="1021.8" cy="566.3" r="6.9" fill="#747474"/>
<text x="1047.9" y="580.4" font-size="29.2" text-anchor="start" fill="#000" font-weight="normal" font-style="normal" >Musculoskeletal/trauma</text>
<text x="1012.4" y="635.9" font-size="32" text-anchor="start" fill="#228b22" font-weight="bold" font-style="normal" >a</text>
<circle cx="1021.8" cy="622.4" r="6.9" fill="#228b22"/>
<text x="1047.9" y="636.8" font-size="29.2" text-anchor="start" fill="#000" font-weight="normal" font-style="normal" >Neurology/eye/psychiatry</text>
<text x="1012.4" y="692.0" font-size="32" text-anchor="start" fill="#8b7500" font-weight="bold" font-style="normal" >a</text>
<circle cx="1021.8" cy="678.5" r="6.9" fill="#8b7500"/>
<text x="1047.9" y="693.2" font-size="29.2" text-anchor="start" fill="#000" font-weight="normal" font-style="normal" >Renal/urology</text>
<text x="1012.4" y="748.0" font-size="32" text-anchor="start" fill="#00008b" font-weight="bold" font-style="normal" >a</text>
<circle cx="1021.8" cy="734.5" r="6.9" fill="#00008b"/>
<text x="1047.9" y="749.6" font-size="29.2" text-anchor="start" fill="#000" font-weight="normal" font-style="normal" >Respiratory/ENT</text>
<text x="-1.6" y="1015.6" font-size="42" text-anchor="start" fill="#000" font-weight="bold" font-style="normal" >b</text>
<line x1="255.7" y1="1044.5" x2="255.7" y2="1362.8" stroke="#2a2a2a" stroke-width="3.1" stroke-linecap="round"/>
<line x1="255.7" y1="1343.2" x2="753.3" y2="1343.2" stroke="#2a2a2a" stroke-width="3.2"/>
<line x1="505.1" y1="1045.8" x2="505.1" y2="1362.8" stroke="#3a3a3a" stroke-width="3.1" stroke-linecap="round"/>
<line x1="753.3" y1="1343" x2="753.3" y2="1362.8" stroke="#2a2a2a" stroke-width="3.1" stroke-linecap="round"/>
<line x1="248.5" y1="1091.7" x2="255.7" y2="1091.7" stroke="#2a2a2a" stroke-width="3.1" stroke-linecap="round"/>
<line x1="248.5" y1="1160.1" x2="255.7" y2="1160.1" stroke="#2a2a2a" stroke-width="3.1" stroke-linecap="round"/>
<line x1="248.5" y1="1229.0" x2="255.7" y2="1229.0" stroke="#2a2a2a" stroke-width="3.1" stroke-linecap="round"/>
<line x1="248.5" y1="1297.7" x2="255.7" y2="1297.7" stroke="#2a2a2a" stroke-width="3.1" stroke-linecap="round"/>
<text x="256" y="1400" font-size="27" text-anchor="middle" fill="#000" font-weight="normal" font-style="normal" >0.5</text>
<text x="505" y="1400" font-size="27" text-anchor="middle" fill="#000" font-weight="normal" font-style="normal" >1</text>
<text x="753.3" y="1400" font-size="27" text-anchor="middle" fill="#000" font-weight="normal" font-style="normal" >2</text>
<text x="503.4" y="1449.6" font-size="28.8" text-anchor="middle" fill="#000" font-weight="normal" font-style="normal" >Adjusted odds ratios</text>
<circle cx="259.00" cy="1187" r="1.9" fill="#707070"/>
<circle cx="266.97" cy="1187" r="1.9" fill="#707070"/>
<circle cx="274.93" cy="1187" r="1.9" fill="#707070"/>
<circle cx="282.90" cy="1187" r="1.9" fill="#707070"/>
<circle cx="290.87" cy="1187" r="1.9" fill="#707070"/>
<circle cx="298.83" cy="1187" r="1.9" fill="#707070"/>
<circle cx="306.80" cy="1187" r="1.9" fill="#707070"/>
<circle cx="314.77" cy="1187" r="1.9" fill="#707070"/>
<circle cx="322.74" cy="1187" r="1.9" fill="#707070"/>
<circle cx="330.70" cy="1187" r="1.9" fill="#707070"/>
<circle cx="338.67" cy="1187" r="1.9" fill="#707070"/>
<circle cx="346.64" cy="1187" r="1.9" fill="#707070"/>
<circle cx="354.60" cy="1187" r="1.9" fill="#707070"/>
<circle cx="362.57" cy="1187" r="1.9" fill="#707070"/>
<circle cx="370.54" cy="1187" r="1.9" fill="#707070"/>
<circle cx="378.50" cy="1187" r="1.9" fill="#707070"/>
<circle cx="386.47" cy="1187" r="1.9" fill="#707070"/>
<circle cx="394.44" cy="1187" r="1.9" fill="#707070"/>
<circle cx="402.41" cy="1187" r="1.9" fill="#707070"/>
<circle cx="410.37" cy="1187" r="1.9" fill="#707070"/>
<circle cx="418.34" cy="1187" r="1.9" fill="#707070"/>
<circle cx="426.31" cy="1187" r="1.9" fill="#707070"/>
<circle cx="434.27" cy="1187" r="1.9" fill="#707070"/>
<circle cx="442.24" cy="1187" r="1.9" fill="#707070"/>
<circle cx="450.21" cy="1187" r="1.9" fill="#707070"/>
<circle cx="458.17" cy="1187" r="1.9" fill="#707070"/>
<circle cx="466.14" cy="1187" r="1.9" fill="#707070"/>
<circle cx="474.11" cy="1187" r="1.9" fill="#707070"/>
<circle cx="482.08" cy="1187" r="1.9" fill="#707070"/>
<circle cx="490.04" cy="1187" r="1.9" fill="#707070"/>
<circle cx="498.01" cy="1187" r="1.9" fill="#707070"/>
<circle cx="505.98" cy="1187" r="1.9" fill="#707070"/>
<circle cx="513.94" cy="1187" r="1.9" fill="#707070"/>
<circle cx="521.91" cy="1187" r="1.9" fill="#707070"/>
<circle cx="529.88" cy="1187" r="1.9" fill="#707070"/>
<circle cx="537.85" cy="1187" r="1.9" fill="#707070"/>
<circle cx="545.81" cy="1187" r="1.9" fill="#707070"/>
<circle cx="553.78" cy="1187" r="1.9" fill="#707070"/>
<circle cx="561.75" cy="1187" r="1.9" fill="#707070"/>
<circle cx="569.71" cy="1187" r="1.9" fill="#707070"/>
<circle cx="577.68" cy="1187" r="1.9" fill="#707070"/>
<circle cx="585.65" cy="1187" r="1.9" fill="#707070"/>
<circle cx="593.61" cy="1187" r="1.9" fill="#707070"/>
<circle cx="601.58" cy="1187" r="1.9" fill="#707070"/>
<circle cx="609.55" cy="1187" r="1.9" fill="#707070"/>
<circle cx="617.51" cy="1187" r="1.9" fill="#707070"/>
<circle cx="625.48" cy="1187" r="1.9" fill="#707070"/>
<circle cx="633.45" cy="1187" r="1.9" fill="#707070"/>
<circle cx="641.42" cy="1187" r="1.9" fill="#707070"/>
<circle cx="649.38" cy="1187" r="1.9" fill="#707070"/>
<circle cx="657.35" cy="1187" r="1.9" fill="#707070"/>
<circle cx="665.32" cy="1187" r="1.9" fill="#707070"/>
<circle cx="673.28" cy="1187" r="1.9" fill="#707070"/>
<circle cx="681.25" cy="1187" r="1.9" fill="#707070"/>
<circle cx="689.22" cy="1187" r="1.9" fill="#707070"/>
<circle cx="697.18" cy="1187" r="1.9" fill="#707070"/>
<circle cx="705.15" cy="1187" r="1.9" fill="#707070"/>
<circle cx="713.12" cy="1187" r="1.9" fill="#707070"/>
<circle cx="721.09" cy="1187" r="1.9" fill="#707070"/>
<circle cx="729.05" cy="1187" r="1.9" fill="#707070"/>
<circle cx="737.02" cy="1187" r="1.9" fill="#707070"/>
<circle cx="744.99" cy="1187" r="1.9" fill="#707070"/>
<circle cx="752.95" cy="1187" r="1.9" fill="#707070"/>
<circle cx="760.92" cy="1187" r="1.9" fill="#707070"/>
<circle cx="768.89" cy="1187" r="1.9" fill="#707070"/>
<circle cx="776.86" cy="1187" r="1.9" fill="#707070"/>
<circle cx="784.82" cy="1187" r="1.9" fill="#707070"/>
<circle cx="792.79" cy="1187" r="1.9" fill="#707070"/>
<circle cx="800.76" cy="1187" r="1.9" fill="#707070"/>
<circle cx="808.72" cy="1187" r="1.9" fill="#707070"/>
<circle cx="816.69" cy="1187" r="1.9" fill="#707070"/>
<circle cx="824.66" cy="1187" r="1.9" fill="#707070"/>
<circle cx="832.62" cy="1187" r="1.9" fill="#707070"/>
<circle cx="840.59" cy="1187" r="1.9" fill="#707070"/>
<circle cx="848.56" cy="1187" r="1.9" fill="#707070"/>
<circle cx="856.52" cy="1187" r="1.9" fill="#707070"/>
<circle cx="864.49" cy="1187" r="1.9" fill="#707070"/>
<circle cx="872.46" cy="1187" r="1.9" fill="#707070"/>
<circle cx="880.43" cy="1187" r="1.9" fill="#707070"/>
<circle cx="888.39" cy="1187" r="1.9" fill="#707070"/>
<circle cx="896.36" cy="1187" r="1.9" fill="#707070"/>
<circle cx="904.33" cy="1187" r="1.9" fill="#707070"/>
<circle cx="912.29" cy="1187" r="1.9" fill="#707070"/>
<circle cx="920.26" cy="1187" r="1.9" fill="#707070"/>
<circle cx="928.23" cy="1187" r="1.9" fill="#707070"/>
<circle cx="936.19" cy="1187" r="1.9" fill="#707070"/>
<circle cx="944.16" cy="1187" r="1.9" fill="#707070"/>
<circle cx="952.13" cy="1187" r="1.9" fill="#707070"/>
<circle cx="960.10" cy="1187" r="1.9" fill="#707070"/>
<circle cx="968.06" cy="1187" r="1.9" fill="#707070"/>
<circle cx="976.03" cy="1187" r="1.9" fill="#707070"/>
<circle cx="984.00" cy="1187" r="1.9" fill="#707070"/>
<circle cx="991.96" cy="1187" r="1.9" fill="#707070"/>
<circle cx="999.93" cy="1187" r="1.9" fill="#707070"/>
<circle cx="1007.90" cy="1187" r="1.9" fill="#707070"/>
<circle cx="1015.87" cy="1187" r="1.9" fill="#707070"/>
<circle cx="1023.83" cy="1187" r="1.9" fill="#707070"/>
<circle cx="1031.80" cy="1187" r="1.9" fill="#707070"/>
<circle cx="1039.77" cy="1187" r="1.9" fill="#707070"/>
<circle cx="1047.73" cy="1187" r="1.9" fill="#707070"/>
<circle cx="1055.70" cy="1187" r="1.9" fill="#707070"/>
<circle cx="1063.67" cy="1187" r="1.9" fill="#707070"/>
<circle cx="1071.63" cy="1187" r="1.9" fill="#707070"/>
<circle cx="1079.60" cy="1187" r="1.9" fill="#707070"/>
<circle cx="1087.57" cy="1187" r="1.9" fill="#707070"/>
<circle cx="1095.53" cy="1187" r="1.9" fill="#707070"/>
<circle cx="1103.50" cy="1187" r="1.9" fill="#707070"/>
<circle cx="1111.47" cy="1187" r="1.9" fill="#707070"/>
<circle cx="1119.44" cy="1187" r="1.9" fill="#707070"/>
<circle cx="1127.40" cy="1187" r="1.9" fill="#707070"/>
<circle cx="1135.37" cy="1187" r="1.9" fill="#707070"/>
<circle cx="1143.34" cy="1187" r="1.9" fill="#707070"/>
<circle cx="1151.30" cy="1187" r="1.9" fill="#707070"/>
<circle cx="1159.27" cy="1187" r="1.9" fill="#707070"/>
<circle cx="1167.24" cy="1187" r="1.9" fill="#707070"/>
<circle cx="1175.20" cy="1187" r="1.9" fill="#707070"/>
<circle cx="1183.17" cy="1187" r="1.9" fill="#707070"/>
<circle cx="1191.14" cy="1187" r="1.9" fill="#707070"/>
<circle cx="1199.11" cy="1187" r="1.9" fill="#707070"/>
<circle cx="1207.07" cy="1187" r="1.9" fill="#707070"/>
<circle cx="1215.04" cy="1187" r="1.9" fill="#707070"/>
<circle cx="1223.01" cy="1187" r="1.9" fill="#707070"/>
<circle cx="1230.97" cy="1187" r="1.9" fill="#707070"/>
<text x="294.7" y="1050" font-size="25" text-anchor="start" fill="#4f9eff" font-weight="normal" font-style="normal" >Male</text>
<text x="294.7" y="1089.6" font-size="25" text-anchor="start" fill="#b84ed9" font-weight="normal" font-style="normal" >Female</text>
<text x="229.4" y="1136.2" font-size="29" text-anchor="end" fill="#000" font-weight="normal" font-style="normal" >Migraine</text>
<text x="229.6" y="1253.6" font-size="29" text-anchor="end" fill="#000" font-weight="normal" font-style="normal" >Myocardial</text>
<text x="229.6" y="1288.2" font-size="29" text-anchor="end" fill="#000" font-weight="normal" font-style="normal" >infarction</text>
<text transform="translate(24.7,1203.5) rotate(-90)" x="0" y="0" font-size="29" text-anchor="middle" fill="#000">Reported medical history</text>
<text transform="translate(59.3,1203.5) rotate(-90)" x="0" y="0" font-size="29" text-anchor="middle" fill="#000">at enrollment</text>
<line x1="545.4" y1="1091.7" x2="566.4" y2="1091.7" stroke="#b84ed9" stroke-width="5" stroke-linecap="round"/>
<line x1="545.4" y1="1083.4" x2="545.4" y2="1100.0" stroke="#b84ed9" stroke-width="5" stroke-linecap="round"/>
<line x1="566.4" y1="1083.4" x2="566.4" y2="1100.0" stroke="#b84ed9" stroke-width="5" stroke-linecap="round"/>
<circle cx="556.0" cy="1091.7" r="10.6" fill="#b84ed9"/>
<line x1="532.0" y1="1160.1" x2="570.4" y2="1160.1" stroke="#4f9eff" stroke-width="5" stroke-linecap="round"/>
<line x1="532.0" y1="1151.8" x2="532.0" y2="1168.4" stroke="#4f9eff" stroke-width="5" stroke-linecap="round"/>
<line x1="570.4" y1="1151.8" x2="570.4" y2="1168.4" stroke="#4f9eff" stroke-width="5" stroke-linecap="round"/>
<circle cx="551.4" cy="1160.1" r="10.6" fill="#4f9eff"/>
<line x1="449.0" y1="1229.0" x2="495.9" y2="1229.0" stroke="#b84ed9" stroke-width="5" stroke-linecap="round"/>
<line x1="449.0" y1="1220.7" x2="449.0" y2="1237.3" stroke="#b84ed9" stroke-width="5" stroke-linecap="round"/>
<line x1="495.9" y1="1220.7" x2="495.9" y2="1237.3" stroke="#b84ed9" stroke-width="5" stroke-linecap="round"/>
<circle cx="472.0" cy="1229.0" r="10.6" fill="#b84ed9"/>
<line x1="450.5" y1="1297.7" x2="475.0" y2="1297.7" stroke="#4f9eff" stroke-width="5" stroke-linecap="round"/>
<line x1="450.5" y1="1289.4" x2="450.5" y2="1306.0" stroke="#4f9eff" stroke-width="5" stroke-linecap="round"/>
<line x1="475.0" y1="1289.4" x2="475.0" y2="1306.0" stroke="#4f9eff" stroke-width="5" stroke-linecap="round"/>
<circle cx="463.4" cy="1297.7" r="10.6" fill="#4f9eff"/>
<text x="713.0" y="1044.4" font-size="29" text-anchor="start" fill="#000" font-weight="normal" font-style="normal" >Events/N</text>
<text x="925.0" y="1044.4" font-size="29.3" text-anchor="start" fill="#000" font-weight="normal" font-style="normal" >OR [95% CI]</text>
<text x="1164.5" y="1044.4" font-size="28.6" text-anchor="start" fill="#000" font-weight="normal" font-style="italic" >P</text>
<text x="682.0" y="1100.0" font-size="29" text-anchor="start" fill="#000" font-weight="normal" font-style="normal" >8610/201,974</text>
<text x="912.2" y="1100.0" font-size="29.3" text-anchor="start" fill="#000" font-weight="normal" font-style="normal" >1.15 [1.12–1.19]</text>
<text x="1156.6" y="1100.0" font-size="29.4" fill="#000">2.69 × 10<tspan dx="0.5" dy="-13.3" font-size="20.3">−22</tspan></text>
<text x="682.0" y="1169.0" font-size="29" text-anchor="start" fill="#000" font-weight="normal" font-style="normal" >2445/171,082</text>
<text x="912.2" y="1169.0" font-size="29.3" text-anchor="start" fill="#000" font-weight="normal" font-style="normal" >1.14 [1.08–1.20]</text>
<text x="1156.6" y="1169.0" font-size="29.4" fill="#000">1.67 × 10<tspan dx="0.5" dy="-13.3" font-size="20.3">−6</tspan></text>
<text x="682.0" y="1236.0" font-size="29" text-anchor="start" fill="#000" font-weight="normal" font-style="normal" >1690/201,974</text>
<text x="912.2" y="1236.0" font-size="29.3" text-anchor="start" fill="#000" font-weight="normal" font-style="normal" >0.91 [0.86–0.98]</text>
<text x="1156.0" y="1236.0" font-size="29" text-anchor="start" fill="#000" font-weight="normal" font-style="normal" >0.007</text>
<text x="682.0" y="1303.0" font-size="29" text-anchor="start" fill="#000" font-weight="normal" font-style="normal" >6944/171,082</text>
<text x="912.2" y="1303.0" font-size="29.3" text-anchor="start" fill="#000" font-weight="normal" font-style="normal" >0.89 [0.86–0.92]</text>
<text x="1156.6" y="1303.0" font-size="29.4" fill="#000">4.20 × 10<tspan dx="0.5" dy="-13.3" font-size="20.3">−12</tspan></text>
</svg>
</body></html>
